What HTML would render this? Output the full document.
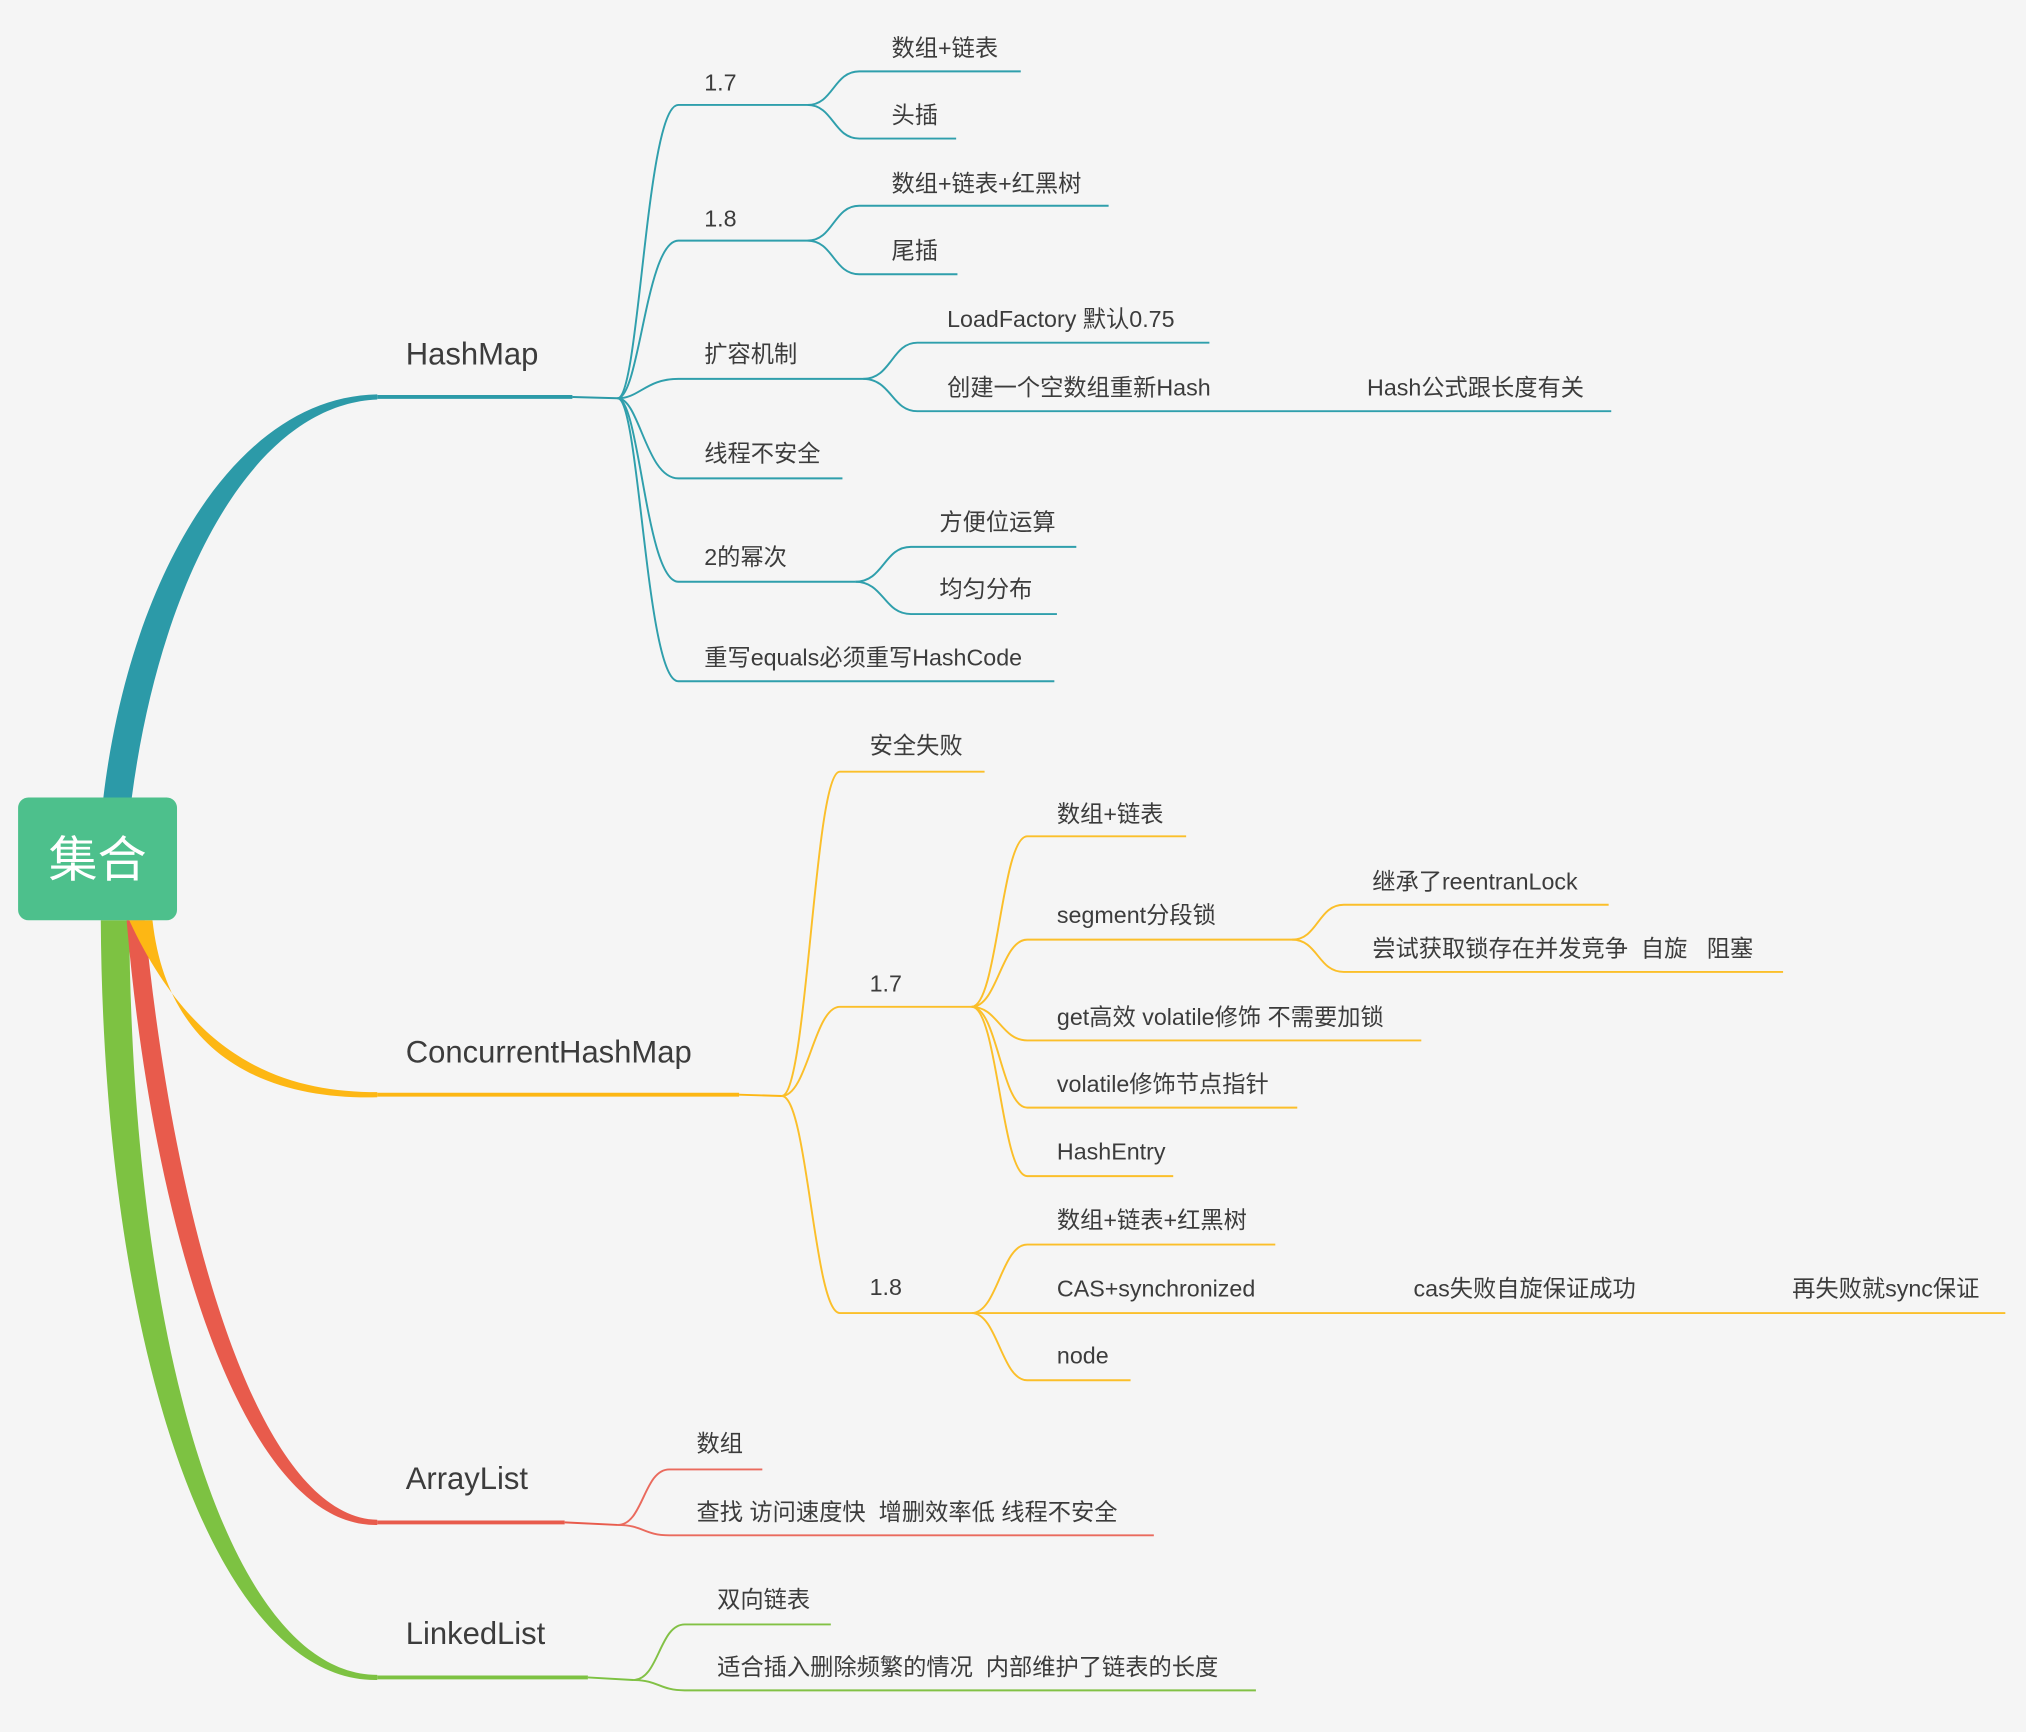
<!DOCTYPE html>
<html><head><meta charset="utf-8"><style>
html,body{margin:0;padding:0;background:#f5f5f5;}
svg{display:block;}
text{font-family:"Liberation Sans","Noto Sans CJK SC",sans-serif;fill:#3c3c3c;}
.m{font-size:24px;}
.c{font-size:18px;}
.t path{fill:none;stroke:#2f9fac;stroke-width:1.5;}
.o path{fill:none;stroke:#fbbf2a;stroke-width:1.5;}
.r path{fill:none;stroke:#ea6a5d;stroke-width:1.5;}
.g path{fill:none;stroke:#82c145;stroke-width:1.5;}
</style></head><body>
<svg width="2026" height="1732" viewBox="0 0 1568 1340" xmlns="http://www.w3.org/2000/svg">
<rect width="1568" height="1340" fill="#f5f5f5"/>
<!-- thick branches -->
<path d="M100 712 C102 1050 180 1296 292 1296 L292 1300 C168 1302 80 1050 78 712 Z" fill="#7dc242"/>
<path d="M112 712 C135 950 200 1174 292 1176 L292 1180 C188 1182 118 950 98 712 Z" fill="#e85b4c"/>
<path d="M100 712 C150 820 220 845 292 845 L292 849 C210 851 130 820 118 712 Z" fill="#fdb714"/>
<path d="M80 617 C100 450 180 307 292 305 L292 309 C195 313 124 450 102 617 Z" fill="#2c9aa8"/>
<!-- root -->
<rect x="14" y="617" width="123" height="95" rx="8" fill="#4dc08c"/>
<text x="75.5" y="678" text-anchor="middle" style="font-size:38px;fill:#fff">集合</text>
<!-- main horizontal lines -->
<line x1="292" y1="307" x2="443" y2="307" stroke="#2c9aa8" stroke-width="3"/>
<line x1="443" y1="307" x2="478" y2="308" stroke="#2c9aa8" stroke-width="1.5"/>
<line x1="292" y1="847" x2="572" y2="847" stroke="#fdb714" stroke-width="3"/>
<line x1="572" y1="847" x2="605" y2="848" stroke="#fdb714" stroke-width="1.5"/>
<line x1="292" y1="1178" x2="437" y2="1178" stroke="#e85b4c" stroke-width="3"/>
<line x1="437" y1="1178" x2="478" y2="1180" stroke="#e85b4c" stroke-width="1.5"/>
<line x1="292" y1="1298" x2="455" y2="1298" stroke="#7dc242" stroke-width="3"/>
<line x1="455" y1="1298" x2="490" y2="1300" stroke="#7dc242" stroke-width="1.5"/>
<text class="m" x="314" y="282">HashMap</text>
<text class="m" x="314" y="822">ConcurrentHashMap</text>
<text class="m" x="314" y="1152">ArrayList</text>
<text class="m" x="314" y="1272">LinkedList</text>

<!-- HashMap children -->
<g class="t">
<path d="M478 308 C495 308 500 81 525 81 L625 81"/>
<path d="M478 308 C495 308 500 186 525 186 L625 186"/>
<path d="M478 308 C495 308 500 293 525 293 L668 293"/>
<path d="M478 308 C495 308 500 370 525 370 L652 370"/>
<path d="M478 308 C495 308 500 450 525 450 L662 450"/>
<path d="M478 308 C495 308 500 527 525 527 L816 527"/>
<path d="M625 81 C645 81 645 55 665 55 L790 55"/>
<path d="M625 81 C645 81 645 107 665 107 L740 107"/>
<path d="M625 186 C645 186 645 159 665 159 L858 159"/>
<path d="M625 186 C645 186 645 212 665 212 L741 212"/>
<path d="M668 293 C690 293 690 265 710 265 L936 265"/>
<path d="M668 293 C690 293 690 318 710 318 L1247 318"/>
<path d="M662 450 C684 450 684 423 705 423 L833 423"/>
<path d="M662 450 C684 450 684 475 705 475 L818 475"/>
</g>
<text class="c" x="545" y="70">1.7</text>
<text class="c" x="545" y="175">1.8</text>
<text class="c" x="545" y="280">扩容机制</text>
<text class="c" x="545" y="357">线程不安全</text>
<text class="c" x="545" y="437">2的幂次</text>
<text class="c" x="545" y="515">重写equals必须重写HashCode</text>
<text class="c" x="690" y="43">数组+链表</text>
<text class="c" x="690" y="95">头插</text>
<text class="c" x="690" y="148">数组+链表+红黑树</text>
<text class="c" x="690" y="200">尾插</text>
<text class="c" x="733" y="253">LoadFactory 默认0.75</text>
<text class="c" x="733" y="306">创建一个空数组重新Hash</text>
<text class="c" x="1058" y="306">Hash公式跟长度有关</text>
<text class="c" x="727" y="410">方便位运算</text>
<text class="c" x="727" y="462">均匀分布</text>

<!-- Concurrent children -->
<g class="o">
<path d="M605 848 C625 848 630 597 650 597 L762 597"/>
<path d="M605 848 C625 848 630 779 650 779 L752 779"/>
<path d="M605 848 C625 848 630 1016 650 1016 L752 1016"/>
<path d="M752 779 C772 779 775 647 795 647 L918 647"/>
<path d="M752 779 C772 779 775 727 795 727 L1000 727"/>
<path d="M752 779 C772 779 775 805 795 805 L1100 805"/>
<path d="M752 779 C772 779 775 857 795 857 L1004 857"/>
<path d="M752 779 C772 779 775 910 795 910 L908 910"/>
<path d="M1000 727 C1020 727 1020 700 1040 700 L1245 700"/>
<path d="M1000 727 C1020 727 1020 752 1040 752 L1380 752"/>
<path d="M752 1016 C772 1016 775 963 795 963 L987 963"/>
<path d="M752 1016 L1552 1016"/>
<path d="M752 1016 C772 1016 775 1068 795 1068 L875 1068"/>
</g>
<text class="c" x="673" y="583">安全失败</text>
<text class="c" x="673" y="767">1.7</text>
<text class="c" x="673" y="1002">1.8</text>
<text class="c" x="818" y="636">数组+链表</text>
<text class="c" x="818" y="714">segment分段锁</text>
<text class="c" x="1062" y="688">继承了reentranLock</text>
<text class="c" x="1062" y="740" xml:space="preserve">尝试获取锁存在并发竞争  自旋   阻塞</text>
<text class="c" x="818" y="793">get高效 volatile修饰 不需要加锁</text>
<text class="c" x="818" y="845">volatile修饰节点指针</text>
<text class="c" x="818" y="897">HashEntry</text>
<text class="c" x="818" y="950">数组+链表+红黑树</text>
<text class="c" x="818" y="1003">CAS+synchronized</text>
<text class="c" x="1094" y="1003">cas失败自旋保证成功</text>
<text class="c" x="1387" y="1003">再失败就sync保证</text>
<text class="c" x="818" y="1055">node</text>

<!-- ArrayList -->
<g class="r">
<path d="M478 1180 C498 1180 498 1137 518 1137 L590 1137"/>
<path d="M478 1180 C498 1180 498 1188 518 1188 L893 1188"/>
</g>
<text class="c" x="539" y="1123">数组</text>
<text class="c" x="539" y="1176" xml:space="preserve">查找 访问速度快  增删效率低 线程不安全</text>

<!-- LinkedList -->
<g class="g">
<path d="M490 1300 C510 1300 510 1257 530 1257 L643 1257"/>
<path d="M490 1300 C510 1300 510 1308 530 1308 L972 1308"/>
</g>
<text class="c" x="555" y="1244">双向链表</text>
<text class="c" x="555" y="1296" xml:space="preserve">适合插入删除频繁的情况  内部维护了链表的长度</text>
</svg>
</body></html>
